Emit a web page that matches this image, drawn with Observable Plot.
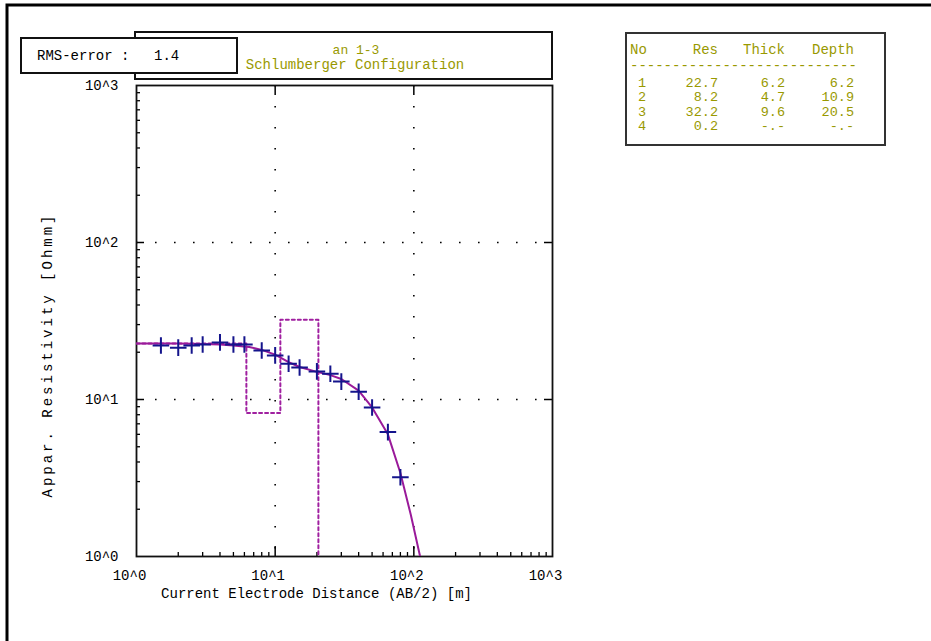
<!DOCTYPE html>
<html>
<head>
<meta charset="utf-8">
<script src="https://cdn.jsdelivr.net/npm/d3@7"></script>
<script src="https://cdn.jsdelivr.net/npm/@observablehq/plot@0.6"></script>
<style>
  html, body { margin: 0; padding: 0; background: #fff; }
  svg { display: block; }
</style>
</head>
<body>
<div id="chart"></div>
<script>
// ---- Data ----
const spacing  = [1.5, 2, 2.5, 3, 4, 5, 6, 8, 10, 12.5, 15, 20, 25, 30, 40, 50, 65, 80];
const measured = [22.1, 21.4, 22.1, 22.4, 23.1, 22.4, 22.4, 20.5, 19.1, 16.9, 16.0, 15.1, 14.6, 13.0, 11.2, 8.9, 6.2, 3.2];

const curveX = [1, 2, 3, 4, 5, 6.5, 8, 10, 12.5, 15, 20, 25, 30, 40, 50, 65, 80, 95, 111];
const curveY = [22.7, 22.7, 22.6, 22.4, 22.1, 21.6, 20.7, 19.3, 17.3, 16.1, 15.0, 14.3, 13.5, 11.4, 8.9, 6.0, 3.4, 1.85, 1.0];

const layerNo    = ["1", "2", "3", "4"];
const layerRes   = [22.7, 8.2, 32.2, 0.2];
const layerThick = [6.2, 4.7, 9.6, null];
const layerDepth = [6.2, 10.9, 20.5, null];

const xTickValues = [1, 10, 100, 1000];
const xTickLabels = ["10^0", "10^1", "10^2", "10^3"];
const yTickValues = [1, 10, 100, 1000];
const yTickLabels = ["10^0", "10^1", "10^2", "10^3"];

const titleLines = ["an 1-3", "Schlumberger Configuration"];
const rmsLabel = "RMS-error :";
const rmsValue = "1.4";
const xLabel = "Current Electrode Distance (AB/2) [m]";
const yLabel = "Appar. Resistivity [Ohmm]";
const tableHead = ["No", "Res", "Thick", "Depth"];

// ---- Derived tables ----
const measuredData = spacing.map((x, i) => ({x, y: measured[i]}));
const curveData = curveX.map((x, i) => ({x, y: curveY[i]}));
// layered model drawn as a step line: resistivity vs depth
const stepData = [{x: 1, y: layerRes[0]}];
layerDepth.forEach((d, i) => {
  if (d != null) {
    stepData.push({x: d, y: layerRes[i]});
    stepData.push({x: d, y: layerRes[i + 1]});
  }
});
stepData.push({x: 1000, y: layerRes[layerRes.length - 1]});

const minorTicks = [];
for (const k of [1, 10, 100]) for (let m = 2; m <= 9; m++) minorTicks.push(m * k);
const majorInner = [10, 100];

const FONT = "'Liberation Mono', 'DejaVu Sans Mono', monospace";
const OLIVE = "#999900";
const FW = 416, FH = 471; // frame size in px

const plot = Plot.plot({
  width: 931,
  height: 641,
  marginLeft: 136,
  marginRight: 379,
  marginTop: 85,
  marginBottom: 85,
  x: {type: "log", domain: [1, 1000], axis: null},
  y: {type: "log", domain: [1, 1000], axis: null},
  style: {fontFamily: FONT, fontSize: "14px", background: "white", color: "black"},
  marks: [
    Plot.gridX(majorInner, {stroke: "black", strokeOpacity: 1, strokeWidth: 1.6, strokeDasharray: "1.6,19.4"}),
    Plot.gridY(majorInner, {stroke: "black", strokeOpacity: 1, strokeWidth: 1.6, strokeDasharray: "1.6,17.4"}),
    // inward ticks
    Plot.ruleX(minorTicks, {x: d => d, insetTop: FH - 4, stroke: "black", strokeWidth: 1.3}),
    Plot.ruleX(majorInner, {x: d => d, insetTop: FH - 10, stroke: "black", strokeWidth: 1.5}),
    Plot.ruleX(majorInner, {x: d => d, insetBottom: FH - 10, stroke: "black", strokeWidth: 1.5}),
    Plot.ruleY(minorTicks, {y: d => d, insetRight: FW - 4, stroke: "black", strokeWidth: 1.3}),
    Plot.ruleY(majorInner, {y: d => d, insetRight: FW - 8, stroke: "black", strokeWidth: 1.5}),
    Plot.ruleY(majorInner, {y: d => d, insetLeft: FW - 8, stroke: "black", strokeWidth: 1.5}),
    Plot.frame({stroke: "#111", strokeWidth: 1.8}),
    Plot.line(stepData, {x: "x", y: "y", stroke: "#a020a0", strokeWidth: 2, strokeDasharray: "3,3", clip: true}),
    Plot.line(curveData, {x: "x", y: "y", stroke: "#9a1a9a", strokeWidth: 2, clip: true}),
    Plot.dot(measuredData, {x: "x", y: "y", symbol: "plus", r: 5.4, stroke: "#14148c", strokeWidth: 2}),
    Plot.text(xTickValues, {x: d => d, text: (d, i) => xTickLabels[i], frameAnchor: "bottom", dy: 23, dx: -7, textAnchor: "middle", fill: "black"}),
    Plot.text(yTickValues, {y: d => d, text: (d, i) => yTickLabels[i], frameAnchor: "left", dx: -18, textAnchor: "end", fill: "black"}),
    Plot.text([xLabel], {text: d => d, frameAnchor: "bottom", dy: 41, dx: -28, textAnchor: "middle", fill: "black"})
  ]
});

document.getElementById("chart").appendChild(plot);

// ---- Decorations: y label, outer border, header boxes, parameter table ----
const svg = d3.select(plot);
const g = svg.append("g").attr("font-family", FONT).attr("font-size", 14).attr("text-anchor", "start");

g.append("text").attr("transform", "translate(48,355) rotate(-90)")
  .attr("text-anchor", "middle").attr("dominant-baseline", "middle")
  .attr("letter-spacing", "3px").attr("fill", "black").text(yLabel);

g.append("path").attr("d", "M7,641V5H931").attr("fill", "none").attr("stroke", "black").attr("stroke-width", 3);

// title box
g.append("rect").attr("x", 135).attr("y", 32).attr("width", 417).attr("height", 47)
  .attr("fill", "white").attr("stroke", "#111").attr("stroke-width", 2);
g.append("text").attr("x", 356).attr("y", 51).attr("text-anchor", "middle").attr("dominant-baseline", "middle")
  .attr("font-size", 13).attr("fill", OLIVE).text(titleLines[0]);
g.append("text").attr("x", 355).attr("y", 65).attr("text-anchor", "middle").attr("dominant-baseline", "middle")
  .attr("fill", OLIVE).text(titleLines[1]);

// RMS box
g.append("rect").attr("x", 21).attr("y", 38).attr("width", 216).attr("height", 35)
  .attr("fill", "white").attr("stroke", "#111").attr("stroke-width", 2);
g.append("text").attr("x", 37).attr("y", 56).attr("text-anchor", "start").attr("dominant-baseline", "middle")
  .attr("fill", "black").text(rmsLabel);
g.append("text").attr("x", 154).attr("y", 56).attr("text-anchor", "start").attr("dominant-baseline", "middle")
  .attr("fill", "black").text(rmsValue);

// table
g.append("rect").attr("x", 626).attr("y", 33).attr("width", 259).attr("height", 112)
  .attr("fill", "white").attr("stroke", "#333").attr("stroke-width", 2);
const headY = 50;
const colEnds = [718, 785, 854];
g.append("text").attr("x", 630).attr("y", headY).attr("text-anchor", "start").attr("dominant-baseline", "middle")
  .attr("fill", OLIVE).text(tableHead[0]);
tableHead.slice(1).forEach((h, i) => {
  g.append("text").attr("x", colEnds[i]).attr("y", headY).attr("text-anchor", "end")
    .attr("dominant-baseline", "middle").attr("fill", OLIVE).text(h);
});
g.append("text").attr("x", 630).attr("y", 66).attr("text-anchor", "start").attr("dominant-baseline", "middle")
  .attr("fill", OLIVE).text("-".repeat(27));
const fmt = v => v == null ? "-.-" : v.toFixed(1);
layerNo.forEach((n, i) => {
  const y = 83 + i * 14.5;
  g.append("text").attr("x", 638).attr("y", y).attr("text-anchor", "start").attr("dominant-baseline", "middle")
    .attr("font-size", 13.5).attr("fill", OLIVE).text(n);
  [layerRes[i], layerThick[i], layerDepth[i]].forEach((v, j) => {
    g.append("text").attr("x", colEnds[j]).attr("y", y).attr("text-anchor", "end")
      .attr("dominant-baseline", "middle").attr("font-size", 13.5).attr("fill", OLIVE).text(fmt(v));
  });
});
</script>
</body>
</html>
